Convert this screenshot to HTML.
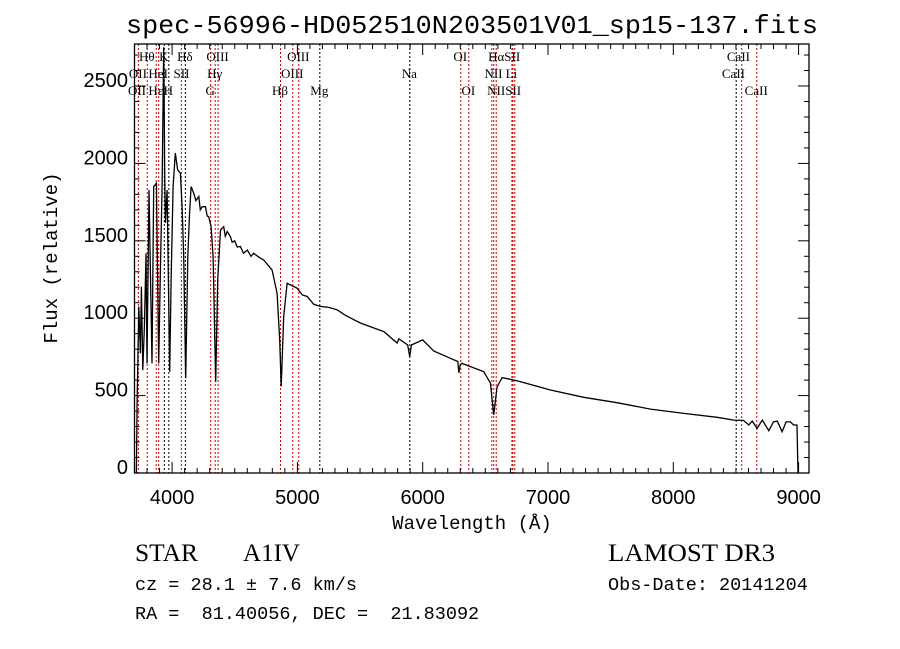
<!DOCTYPE html>
<html><head><meta charset="utf-8"><style>
body{margin:0;background:#fff;}
svg{display:block;}
text{font-family:"Liberation Sans",sans-serif;fill:#000;}
.mono{font-family:"Liberation Mono",monospace;}
.serif{font-family:"Liberation Serif",serif;}
</style></head><body>
<svg id="chart" width="900" height="649" viewBox="0 0 900 649" xmlns="http://www.w3.org/2000/svg">
<rect width="900" height="649" fill="#fff"/>
<text class="mono" x="472" y="33" font-size="26" text-anchor="middle" textLength="692" lengthAdjust="spacingAndGlyphs">spec-56996-HD052510N203501V01_sp15-137.fits</text>
<g id="lines"></g>
<g id="labels"></g>
<g id="axes"></g>
<path id="spec" fill="none" stroke="#000" stroke-width="1.3"/>
<text class="mono" x="472" y="529" font-size="19" text-anchor="middle">Wavelength (Å)</text>
<text class="mono" x="0" y="0" font-size="19" text-anchor="middle" transform="translate(57,258) rotate(-90)">Flux (relative)</text>
<text class="serif" x="135" y="561" font-size="25" textLength="63" lengthAdjust="spacingAndGlyphs">STAR</text>
<text class="serif" x="243" y="561" font-size="25" textLength="57" lengthAdjust="spacingAndGlyphs">A1IV</text>
<text class="mono" x="135" y="590" font-size="18.5">cz = 28.1 ± 7.6 km/s</text>
<text class="mono" x="135" y="619" font-size="18.5" xml:space="preserve">RA =  81.40056, DEC =  21.83092</text>
<text class="serif" x="608" y="561" font-size="25" textLength="167" lengthAdjust="spacingAndGlyphs">LAMOST DR3</text>
<text class="mono" x="608" y="590" font-size="18.5">Obs-Date: 20141204</text>
</svg>
<script>
const wavelengths=[3715,3721,3734,3747,3755,3766,3779,3792,3800,3816,3840,3853,3875,3893,3907,3920,3933,3941,3947,3960,3981,3992,4000,4008,4026,4045,4066,4080,4093,4109,4125,4138,4152,4173,4190,4213,4225,4240,4266,4280,4292,4311,4327,4348,4364,4386,4412,4425,4440,4465,4480,4500,4520,4545,4570,4600,4630,4651,4700,4731,4798,4838,4859,4871,4891,4918,4944,4998,5040,5078,5130,5184,5250,5317,5380,5450,5503,5600,5691,5796,5810,5880,5896,5910,6000,6088,6221,6280,6288,6300,6314,6487,6540,6567,6594,6634,6753,7019,7285,7551,7817,8085,8350,8483,8560,8603,8630,8669,8710,8762,8800,8830,8868,8900,8935,8960,8987,8995];
const fluxes=[0,452,1074,774,1204,665,945,1419,708,1828,708,1850,1872,708,1311,1850,2750,1938,1615,1828,654,1247,1550,1850,2067,1957,1938,1720,1397,612,1397,1656,1850,1807,1760,1786,1700,1720,1720,1660,1656,1591,1397,590,1247,1570,1591,1530,1560,1527,1490,1500,1460,1463,1420,1440,1400,1419,1390,1376,1311,1160,858,560,1010,1225,1215,1194,1150,1140,1090,1076,1070,1054,1020,990,969,940,913,840,866,827,751,827,860,788,741,720,648,700,708,655,581,375,557,616,596,536,489,454,413,385,360,342,340,310,335,289,342,273,331,335,267,330,330,310,310,0];
const xTicks=[4000,5000,6000,7000,8000,9000];
const yTicks=[0,500,1000,1500,2000,2500];
const lineWaves=[3727,3798,3869,3889,3934,3970,4070,4102,4304,4340,4363,4861,4959,5007,5175,5893,6300,6364,6548,6563,6583,6708,6716,6731,8498,8542,8662];
const lineColors=["#c00","#c00","#c00","#c00","#000","#000","#c00","#000","#c00","#c00","#c00","#c00","#c00","#c00","#000","#000","#c00","#c00","#c00","#c00","#c00","#c00","#c00","#c00","#000","#c00","#c00"];
const labelTexts=["Hθ","K","Hδ","OIII","OIII","OI","HαSII","CaII","OII","HeI","SII","Hγ","OIII","Na","NII","Li","CaII","OII","Hε","H","G","Hβ","Mg","OI","NIISII","CaII"];
const labelWaves=[3798,3934,4102,4363,5007,6300,6650,8520,3727,3889,4075,4340,4959,5893,6565,6708,8480,3720,3870,3970,4304,4861,5175,6364,6650,8662];
const labelRows=[0,0,0,0,0,0,0,0,1,1,1,1,1,1,1,1,1,2,2,2,2,2,2,2,2,2];

const X0=134.5,PX=0.1253,Y0=473,PY=0.1548,L=134.5,R=809,T=44,B=473;
const sx=w=>X0+(w-3700)*PX, sy=f=>Y0-f*PY;
const NS="http://www.w3.org/2000/svg";
function mk(tag,attrs,parent){const e=document.createElementNS(NS,tag);for(const k in attrs)e.setAttribute(k,attrs[k]);parent.appendChild(e);return e;}
const axes=document.getElementById('axes');
const frame=mk('rect',{x:L,y:T,width:R-L,height:B-T,fill:'none',stroke:'#000','stroke-width':1.3},axes);


for(let w=3700;w<=9090;w+=100){
  const x=sx(w),maj=(w%1000===0);
  const len=maj?11:5;
  const t1=mk('line',{x1:x,x2:x,y1:B,y2:B-len,stroke:'#000','stroke-width':1},axes);
  
  
  const t2=mk('line',{x1:x,x2:x,y1:T,y2:T+len,stroke:'#000','stroke-width':1},axes);
  
  
}
for(let f=0;f<=2750;f+=100){
  const y=sy(f),maj=(f%500===0);
  const len=maj?11:5;
  const t1=mk('line',{x1:L,x2:L+len,y1:y,y2:y,stroke:'#000','stroke-width':1},axes);
  
  
  const t2=mk('line',{x1:R,x2:R-len,y1:y,y2:y,stroke:'#000','stroke-width':1},axes);
  
  
}
xTicks.forEach(v=>{
  const t=mk('text',{x:sx(v),y:504,'font-size':20,'text-anchor':'middle'},axes);
  t.textContent=v;
  
  
});
yTicks.forEach(v=>{
  const t=mk('text',{x:128,y:sy(v)+1,'font-size':20,'text-anchor':'end'},axes);
  t.textContent=v;
  
  
});
const lg=document.getElementById('lines');
lineWaves.forEach((w,i)=>{
  const x=sx(w)+0.5;
  const l=mk('line',{x1:x,x2:x,y1:T,y2:B,stroke:lineColors[i],'stroke-width':1,'stroke-dasharray':'2,2'},lg);
  
  
});
const lb=document.getElementById('labels');
const rowY=[61,78,95];
labelTexts.forEach((s,i)=>{
  const t=mk('text',{x:sx(labelWaves[i]),y:rowY[labelRows[i]],'font-size':13,'text-anchor':'middle','class':'serif'},lb);
  t.textContent=s;
  
  
});
let d='';
wavelengths.forEach((w,i)=>{d+=(i?'L':'M')+sx(w).toFixed(1)+','+sy(fluxes[i]).toFixed(1);});
document.getElementById('spec').setAttribute('d',d);
</script>
</body></html>
